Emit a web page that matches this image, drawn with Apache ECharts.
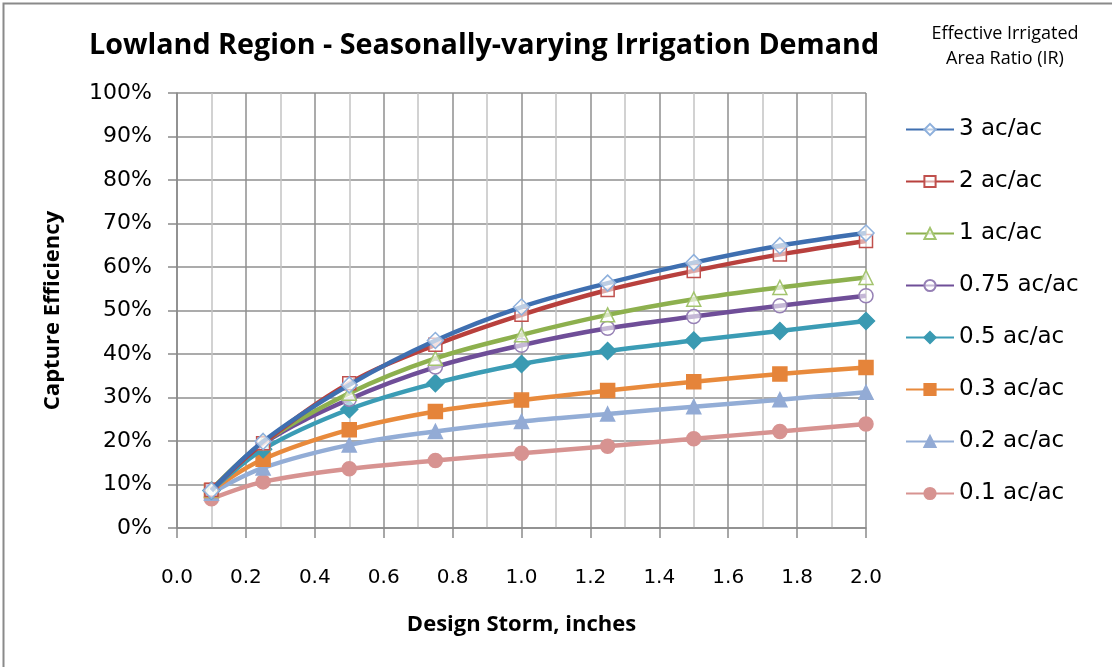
<!DOCTYPE html>
<html>
<head>
<meta charset="utf-8">
<script src="https://cdn.jsdelivr.net/npm/echarts@6/dist/echarts.min.js"></script>
<style>
html,body{margin:0;padding:0;background:#fff;}
#chart{width:1112px;height:667px;}
</style>
</head>
<body>
<div id="chart"></div>
<script>
// Design storm depths (inches)
const storms = [0.1, 0.25, 0.5, 0.75, 1.0, 1.25, 1.5, 1.75, 2.0];
// Capture efficiency (%) per effective irrigated area ratio
const ir3   = [8.6, 19.9, 32.9, 43.1, 50.8, 56.3, 61.0, 64.9, 67.8];
const ir2   = [8.8, 19.5, 33.3, 42.1, 49.0, 54.7, 59.1, 62.9, 66.0];
const ir1   = [8.8, 19.6, 31.0, 39.0, 44.4, 49.0, 52.6, 55.3, 57.6];
const ir075 = [8.7, 19.4, 29.6, 37.0, 42.0, 45.9, 48.6, 51.1, 53.4];
const ir05  = [8.6, 18.1, 27.3, 33.3, 37.7, 40.7, 43.1, 45.3, 47.6];
const ir03  = [8.6, 15.8, 22.6, 26.8, 29.4, 31.6, 33.6, 35.4, 36.9];
const ir02  = [8.0, 13.8, 19.1, 22.2, 24.5, 26.2, 27.9, 29.5, 31.2];
const ir01  = [6.7, 10.6, 13.6, 15.5, 17.2, 18.8, 20.5, 22.2, 23.9];
const seriesNames = ['3 ac/ac', '2 ac/ac', '1 ac/ac', '0.75 ac/ac', '0.5 ac/ac', '0.3 ac/ac', '0.2 ac/ac', '0.1 ac/ac'];
const seriesValues = [ir3, ir2, ir1, ir075, ir05, ir03, ir02, ir01];

const styles = [
  {line:'#3F6FB0', symbol:'diamond',  size:16, fill:'rgba(255,255,255,0.65)', border:'#8EB0DC'},
  {line:'#B8403D', symbol:'rect',     size:13, fill:'rgba(255,255,255,0.55)', border:'#C0504D'},
  {line:'#8DB04E', symbol:'triangle', size:14, fill:'rgba(255,255,255,0.65)', border:'#A3C46E'},
  {line:'#6F4E98', symbol:'circle',   size:14, fill:'rgba(255,255,255,0.6)',  border:'#9680B5'},
  {line:'#3B9CB5', symbol:'diamond',  size:17, fill:'#3A9AB2', border:'#3A9AB2'},
  {line:'#E88A3C', symbol:'rect',     size:14, fill:'#E5843A', border:'#E5843A'},
  {line:'#93ADD6', symbol:'triangle', size:14, fill:'#93ABD5', border:'#93ABD5'},
  {line:'#D79391', symbol:'circle',   size:14, fill:'#D79391', border:'#D79391'}
];

const series = seriesNames.map((n, i) => ({
  name: n,
  type: 'line',
  smooth: 0.35,
  data: storms.map((x, j) => [x, seriesValues[i][j]]),
  symbol: styles[i].symbol,
  symbolSize: styles[i].size,
  lineStyle: {color: styles[i].line, width: 4.5},
  itemStyle: {color: styles[i].fill, borderColor: styles[i].border, borderWidth: 1.5},
  emphasis: {disabled: true},
  z: 10 + (8 - i)
}));

const chart = echarts.init(document.getElementById('chart'), null, {renderer: 'canvas'});
chart.setOption({
  animation: false,
  backgroundColor: '#fff',
  title: [
    {text: 'Lowland Region - Seasonally-varying Irrigation Demand', left: 84, top: 26,
     textStyle: {fontFamily: 'Open Sans', fontWeight: 'bold', fontSize: 28.7, color: '#000'}},
    {text: 'Effective Irrigated\nArea Ratio (IR)', left: 1000, top: 16, textAlign: 'center',
     textStyle: {fontFamily: 'Open Sans', fontWeight: 'normal', fontSize: 18, lineHeight: 25, color: '#000'}}
  ],
  graphic: [
    {type: 'rect', shape: {x: 3.5, y: 3.5, width: 1200, height: 800}, style: {fill: null, stroke: '#8a8a8a', lineWidth: 2}, silent: true}
  ],
  grid: {left: 177, right: 246, top: 93, bottom: 139},
  legend: {
    orient: 'vertical', left: 905, top: 118, padding: 0,
    itemWidth: 48, itemHeight: 14, itemGap: 29,
    textStyle: {fontFamily: 'DejaVu Sans', fontSize: 23, color: '#000'},
    data: seriesNames
  },
  xAxis: {
    type: 'value', min: 0, max: 2, interval: 0.2,
    name: 'Design Storm, inches', nameLocation: 'middle', nameGap: 86,
    nameTextStyle: {fontFamily: 'Open Sans', fontWeight: 'bold', fontSize: 22, color: '#000'},
    axisLine: {show: true, lineStyle: {color: '#8a8a8a', width: 1.5}},
    axisTick: {show: true, length: 10, lineStyle: {color: '#8a8a8a', width: 1.5}},
    axisLabel: {margin: 40, fontFamily: 'DejaVu Sans', fontSize: 20, color: '#000',
      formatter: v => v.toFixed(1)},
    splitLine: {show: true, lineStyle: {color: '#8f8f8f', width: 1.5}},
    minorTick: {show: false, splitNumber: 2},
    minorSplitLine: {show: true, lineStyle: {color: '#c4c4c4', width: 1.5}}
  },
  yAxis: {
    type: 'value', min: 0, max: 100, interval: 10,
    name: 'Capture Efficiency', nameLocation: 'middle', nameGap: 113, nameRotate: 90,
    nameTextStyle: {fontFamily: 'Open Sans', fontWeight: 'bold', fontSize: 22, color: '#000'},
    axisLine: {show: true, lineStyle: {color: '#8a8a8a', width: 1.5}},
    axisTick: {show: true, length: 9, lineStyle: {color: '#8a8a8a', width: 1.5}},
    axisLabel: {margin: 25, fontFamily: 'DejaVu Sans', fontSize: 22, color: '#000',
      formatter: v => Math.round(v) + '%'},
    splitLine: {show: true, lineStyle: {color: '#8f8f8f', width: 1.5}}
  },
  series: series
});
</script>
</body>
</html>
